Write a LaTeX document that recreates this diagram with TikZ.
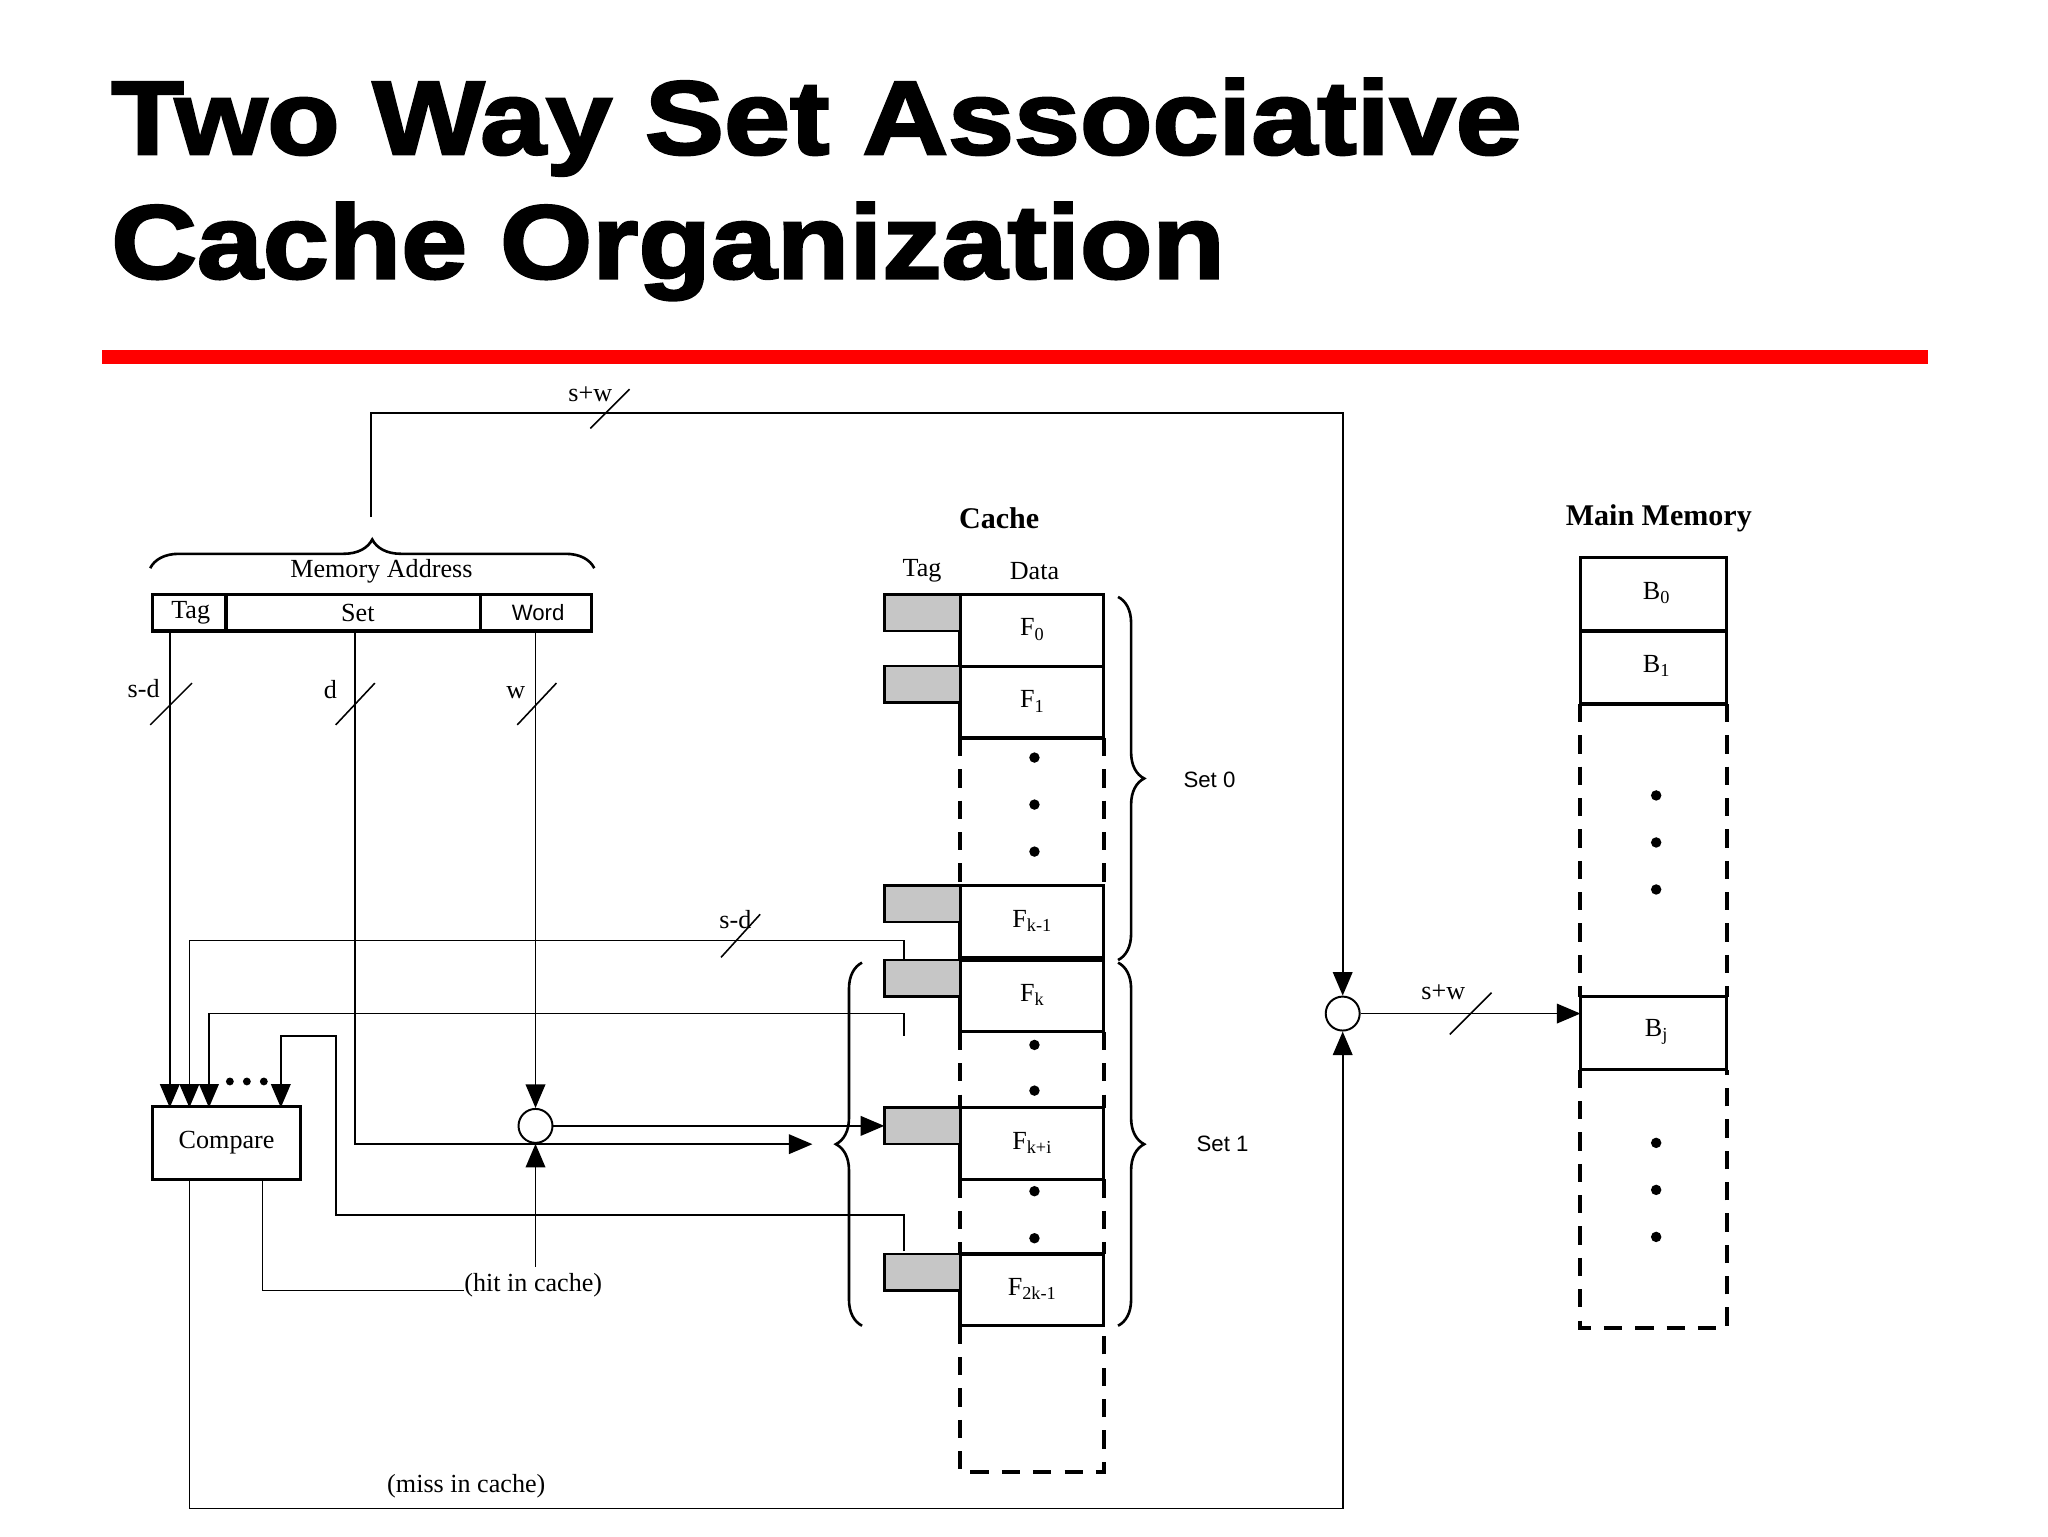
\documentclass[tikz,border=0pt]{standalone}
\usepackage{fontspec}
\setmainfont{Liberation Serif}
\setsansfont{Liberation Sans}
\newfontfamily\titlefont[FakeBold=2.5,FakeStretch=1.135]{Liberation Sans Bold}
\usetikzlibrary{arrows.meta,decorations.pathreplacing}
\newcommand{\sbs}[1]{\raisebox{-0.35ex}{\fontsize{14}{16}\selectfont #1}}
\begin{document}
\begin{tikzpicture}[x=1pt,y=-1pt,
  ln/.style={line width=1.3pt},
  bx/.style={line width=2.5pt},
  dsh/.style={line width=3pt,dash pattern=on 14pt off 10pt},
  tg/.style={fill=gray!45,draw,line width=2pt},
  ar/.style={-{Triangle[length=18pt,width=15pt]}},
  lab/.style={font=\fontsize{20}{22}\selectfont},
  slab/.style={font=\sffamily\fontsize{17}{20}\selectfont},
  dt/.style={circle,fill,inner sep=0pt,minimum size=8pt},
  sl/.style={line width=1.2pt}]
\useasboundingbox (0,0) rectangle (1568,1176);
% title
\node[anchor=base west,inner sep=0,font=\titlefont\fontsize{80}{90}\selectfont] (t1) at (85,118) {Two Way Set Associative};
\node[anchor=base west,inner sep=0,font=\titlefont\fontsize{80}{90}\selectfont] (t2) at (85,213) {Cache Organization};
\fill[red] (78,268) rectangle (1476,279);
% memory address
\draw[bx] (117,455) rectangle (453,483);
\draw[bx] (173,455)--(173,483) (368,455)--(368,483);
\node[lab] (mt) at (146,469) {Tag};
\node[lab] (ms) at (274,469) {Set};
\node[slab] (mw) at (412,469) {Word};
\node[lab] (ma) at (292,437) {Memory Address};
\draw[line width=2pt,decorate,decoration={brace,amplitude=22pt}] (115,435)--(455,435);
\coordinate (btip) at (284,396);
\coordinate (cm) at (1028,776);
\node[circle,draw,line width=1.5pt,minimum size=26pt,inner sep=0] (c2) at (cm) {};
\draw[ln,ar] (btip)--(284,316)--(1028,316)--(c2.north);
\draw[sl] (452,328)--(482,298);
\node[lab] (sw1) at (452,302) {s+w};
% address lines
\draw[ln,ar] (130,483)--(130,848);
\draw[sl] (115,555)--(147,523); \node[lab] at (110,527) {s-d};
\draw[sl] (257,555)--(287,523); \node[lab] at (253,528) {d};
\draw[sl] (396,555)--(426,523); \node[lab] at (395,530) {w};
% compare
\node[draw,bx,minimum width=113pt,minimum height=56pt,inner sep=0,lab] (cmp) at (173.5,875) {Compare};
\node[circle,draw,line width=1.5pt,minimum size=26pt,inner sep=0] (c1) at (410,862) {};
\draw[ln,ar] (410,483)--(c1.north);
\draw[ln,ar] (410,970)--(c1.south);
\draw[ln] (201,903)--(201,988)--(355,988);
\node[lab,anchor=west] (hit) at (352,984) {(hit in cache)};
\draw[ln,ar] (272,483)--(272,876)--(622,876);
\draw[ln,ar] (423,862)--(677,862);
% tag compare lines
\draw[ln,ar] (692,735)--(692,720)--(145,720)--(145,848);
\draw[sl] (552,733)--(582,700); \node[lab] at (563,704) {s-d};
\draw[ln,ar] (692,793)--(692,776)--(160,776)--(160,848);
\draw[ln,ar] (692,958)--(692,930)--(257,930)--(257,793)--(215,793)--(215,848);
\node[dt,minimum size=6pt] at (176,828) {};
\node[dt,minimum size=6pt] at (189,828) {};
\node[dt,minimum size=6pt] at (202,828) {};
% miss
\draw[ln,ar] (145,903)--(145,1155)--(1028,1155)--(c2.south);
\node[lab] (miss) at (357,1138) {(miss in cache)};
% cache
\node[font=\bfseries\fontsize{23}{26}\selectfont] (ch) at (765,397) {Cache};
\node[lab] at (706,437) {Tag};
\node[lab] at (792,437) {Data};
\foreach \y/\t in {455/0,510/1,678/k-1,735/k,848/k+i,960/2k-1}{
  \draw[bx] (735,\y) rectangle (845,\y+55);
  \node[lab] at (790,\y+27) {F\sbs{\t}};
  \draw[tg] (677,\y) rectangle (735,\y+28);
}
\draw[dsh] (735,565)--(735,678) (845,565)--(845,678);
\draw[dsh] (735,790)--(735,848) (845,790)--(845,848);
\draw[dsh] (735,903)--(735,960) (845,903)--(845,960);
\draw[dsh] (735,1015)--(735,1127)--(845,1127)--(845,1015);
\foreach \y in {580,616,652,800,835,912,948} \node[dt] at (792,\y) {};
\draw[line width=2pt,decorate,decoration={brace,amplitude=20pt}] (856,457)--(856,735);
\node[slab] at (926,597) {Set 0};
\draw[line width=2pt,decorate,decoration={brace,amplitude=20pt}] (856,737)--(856,1015);
\node[slab] at (936,876) {Set 1};
\draw[line width=2pt,decorate,decoration={brace,amplitude=20pt}] (660,1015)--(660,737);
% right circle out
\draw[ln,ar] (c2.east)--(1210,776);
\draw[sl] (1110,792)--(1142,760); \node[lab] at (1105,760) {s+w};
% main memory
\node[font=\bfseries\fontsize{23}{26}\selectfont] (mm) at (1270,397) {Main Memory};
\foreach \y/\t in {427/0,483/1,763/j}{
  \draw[bx] (1210,\y) rectangle (1322,\y+56);
  \node[lab] at (1268,\y+27) {B\sbs{\t}};
}
\draw[dsh] (1210,539)--(1210,763) (1322,539)--(1322,763);
\draw[dsh] (1210,819)--(1210,1017)--(1322,1017)--(1322,819);
\foreach \y in {609,645,681,875,911,947} \node[dt] at (1268,\y) {};
\end{tikzpicture}
\end{document}
